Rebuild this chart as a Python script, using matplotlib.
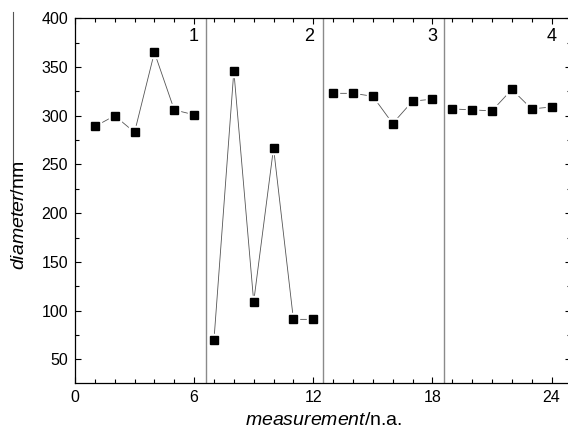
import numpy as np
import matplotlib
matplotlib.use("Agg")
import matplotlib.pyplot as plt
from matplotlib.lines import Line2D
from matplotlib.ticker import MultipleLocator

plt.rcParams['font.family'] = ['Liberation Sans', 'DejaVu Sans']
plt.rcParams['mathtext.fontset'] = 'custom'
plt.rcParams['mathtext.rm'] = 'Liberation Sans'
plt.rcParams['mathtext.it'] = 'Liberation Sans:italic'

# four groups of six measurements each
groups = ['1', '2', '3', '4']
measurement = [
    [1, 2, 3, 4, 5, 6],
    [7, 8, 9, 10, 11, 12],
    [13, 14, 15, 16, 17, 18],
    [19, 20, 21, 22, 23, 24],
]
diameter = [
    [289, 300, 283, 365, 306, 301],
    [70, 346, 109, 267, 91, 91],
    [323, 323, 320, 292, 315, 317],
    [307, 306, 305, 327, 307, 309],
]
separators = [6.6, 12.5, 18.6]
label_x = [5.95, 11.8, 18.0, 24.0]


def main():
    fig = plt.figure(figsize=(5.68, 4.34), dpi=100)
    ax = fig.add_axes([0.132, 0.1182, 0.874, 0.8396])

    for xs in separators:
        ax.axvline(xs, color='#8a8a8a', lw=1.0, zorder=1)

    for x, y in zip(measurement, diameter):
        ax.plot(x, y, color='#555555', lw=0.6, zorder=2)
        ax.plot(x, y, ls='none', marker='s', ms=8.5, color='white', zorder=3)
        ax.plot(x, y, ls='none', marker='s', ms=6, color='black', zorder=4)

    for g, gx in zip(groups, label_x):
        ax.text(gx, 381, g, fontsize=13, ha='center', va='center')

    ax.set_xlim(0, 25)
    ax.set_ylim(26, 400)
    ax.xaxis.set_major_locator(MultipleLocator(6))
    ax.xaxis.set_minor_locator(MultipleLocator(1))
    ax.yaxis.set_major_locator(MultipleLocator(50))
    ax.yaxis.set_minor_locator(MultipleLocator(25))
    ax.set_yticks([50, 100, 150, 200, 250, 300, 350, 400])
    ax.tick_params(which='both', direction='in', top=True, right=True,
                   width=0.8, labelsize=11.5)
    ax.tick_params(which='major', length=4.5, pad=5)
    ax.tick_params(which='minor', length=2.7)
    for s in ax.spines.values():
        s.set_linewidth(0.9)

    ax.set_xlabel(r'$\it{measurement}$/n.a.', fontsize=14, labelpad=5)
    fig.text(20 / 568, 1 - 215 / 434, r'$\it{diameter}$/nm', fontsize=14,
             rotation=90, ha='center', va='center')
    # overline on the y label
    fig.add_artist(Line2D([12.5 / 568, 12.5 / 568], [1 - 12 / 434, 1 - 220 / 434],
                          color='#555555', lw=0.8, transform=fig.transFigure))

    plt.savefig('out.png', dpi=100)


if __name__ == "__main__":
    main()
